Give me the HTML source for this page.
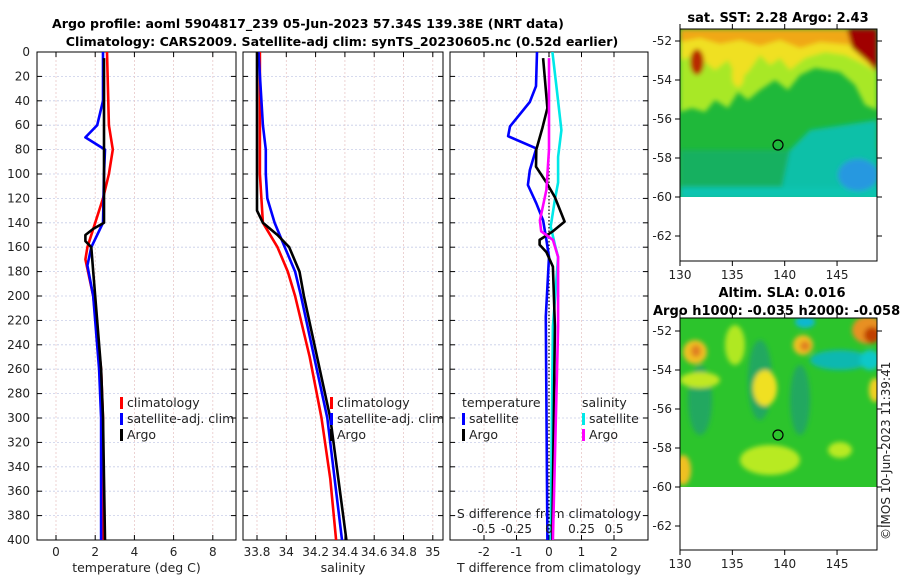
<!DOCTYPE html>
<html><head><meta charset="utf-8"><style>
html,body{margin:0;padding:0;background:#fff;}
svg{display:block;font-family:"DejaVu Sans","Liberation Sans",sans-serif;}
</style></head><body>
<svg id="fig" width="900" height="580" viewBox="0 0 900 580">
<defs>
<filter id="bl" x="-20%" y="-20%" width="140%" height="140%"><feGaussianBlur stdDeviation="2.5"/></filter>
<clipPath id="c1"><rect x="680" y="29" width="197" height="168"/></clipPath>
<clipPath id="c2"><rect x="680" y="318" width="197" height="169"/></clipPath>
<clipPath id="cp1"><rect x="37" y="52" width="199" height="488"/></clipPath>
<clipPath id="cp2"><rect x="243" y="52" width="200" height="488"/></clipPath>
<clipPath id="cp3"><rect x="450" y="52" width="198" height="488"/></clipPath>
<clipPath id="cleg"><rect x="0" y="0" width="443" height="580"/></clipPath>
</defs>
<text x="308" y="28" text-anchor="middle" font-size="12.6" font-weight="bold">Argo profile: aoml 5904817_239 05-Jun-2023 57.34S 139.38E (NRT data)</text>
<text x="342" y="46" text-anchor="middle" font-size="12.6" font-weight="bold">Climatology: CARS2009. Satellite-adj clim: synTS_20230605.nc (0.52d earlier)</text>

<!-- map 1 -->
<g>
<g clip-path="url(#c1)">
<rect x="680" y="29" width="197" height="168" fill="#1fb83a"/>
<g filter="url(#bl)">
<rect x="680" y="150" width="200" height="50" fill="#18b060"/>
<path d="M780,197 L790,150 L810,130 L877,120 V197 Z" fill="#10c0a8"/>
<rect x="680" y="187" width="200" height="12" fill="#10c4b0"/>
<ellipse cx="858" cy="175" rx="20" ry="16" fill="#2898e0"/>
<path d="M680,29 H877 V110 L865,105 L855,85 L840,72 L815,68 L800,75 L788,90 L775,80 L760,90 L748,100 L738,92 L728,108 L715,100 L705,112 L692,108 L680,112 Z" fill="#a8e828"/>
<path d="M680,29 H877 V72 L860,62 L845,55 L825,52 L805,58 L790,70 L780,58 L770,65 L760,55 L748,72 L738,80 L728,60 L715,70 L705,62 L695,55 L680,60 Z" fill="#f0e020"/>
<path d="M680,29 H877 V52 L850,45 L820,42 L800,48 L780,40 L760,46 L740,40 L720,44 L700,38 L680,42 Z" fill="#f0a818"/>
<ellipse cx="697" cy="62" rx="7" ry="13" fill="#b82a00"/>
<path d="M847,29 H877 V72 L868,62 L852,48 Z" fill="#a00000"/>
<ellipse cx="738" cy="75" rx="6" ry="12" fill="#f0e020"/>
</g>
</g>
<rect x="680" y="29" width="197" height="232" fill="none" stroke="#000" stroke-width="1"/>
<circle cx="778" cy="145" r="5" fill="none" stroke="#000" stroke-width="1.2"/>
<text x="778" y="22" text-anchor="middle" font-size="13" font-weight="bold">sat. SST: 2.28 Argo: 2.43</text>
</g>

<!-- map 2 -->
<g>
<g clip-path="url(#c2)">
<rect x="680" y="318" width="197" height="169" fill="#2cc42c"/>
<g filter="url(#bl)">
<ellipse cx="700" cy="400" rx="12" ry="35" fill="#20a860"/>
<ellipse cx="760" cy="380" rx="12" ry="40" fill="#20a860"/>
<ellipse cx="800" cy="400" rx="10" ry="35" fill="#20a860"/>
<ellipse cx="840" cy="360" rx="30" ry="10" fill="#10b8b0"/>
<ellipse cx="870" cy="360" rx="10" ry="10" fill="#10c8c8"/>
<ellipse cx="805" cy="322" rx="10" ry="6" fill="#10b8d0"/>
<ellipse cx="735" cy="345" rx="10" ry="20" fill="#b0e820"/>
<ellipse cx="695" cy="352" rx="12" ry="12" fill="#f0c020"/>
<ellipse cx="696" cy="351" rx="5" ry="6" fill="#e08020"/>
<ellipse cx="765" cy="388" rx="12" ry="18" fill="#f0e020"/>
<ellipse cx="803" cy="345" rx="10" ry="10" fill="#f0c020"/>
<ellipse cx="805" cy="346" rx="5" ry="5" fill="#e08020"/>
<ellipse cx="868" cy="330" rx="16" ry="14" fill="#e89020"/>
<ellipse cx="872" cy="335" rx="8" ry="8" fill="#c04000"/>
<ellipse cx="700" cy="380" rx="20" ry="8" fill="#c0e820"/>
<ellipse cx="683" cy="470" rx="8" ry="15" fill="#f0c020"/>
<ellipse cx="770" cy="460" rx="30" ry="15" fill="#b8ea20"/>
<ellipse cx="875" cy="390" rx="6" ry="12" fill="#f0d020"/>
<ellipse cx="840" cy="450" rx="12" ry="8" fill="#b8ea20"/>
</g>
</g>
<rect x="680" y="318" width="197" height="232" fill="none" stroke="#000" stroke-width="1"/>
<circle cx="778" cy="435" r="5" fill="none" stroke="#000" stroke-width="1.2"/>
<text x="782" y="297" text-anchor="middle" font-size="13" font-weight="bold">Altim. SLA: 0.016</text>
<text x="653" y="315" font-size="13" font-weight="bold">Argo h1000: -0.035 h2000: -0.058</text>
</g>
<text transform="translate(890,540) rotate(-90)" font-size="12" fill="#222">©IMOS 10-Jun-2023 11:39:41</text>

<g id="g"></g>
</svg>
<script>
// ---- data ----
const depthTicks=[0,20,40,60,80,100,120,140,160,180,200,220,240,260,280,300,320,340,360,380,400];
const tempTicks=[0,2,4,6,8];
const salTicks=[33.8,34,34.2,34.4,34.6,34.8,35];
const salTickLabels=['33.8','34','34.2','34.4','34.6','34.8','35'];
const tdTicks=[-2,-1,0,1,2];
const sdTicks=[-0.5,-0.25,0,0.25,0.5];
const sdTickLabels=['-0.5','-0.25','0','0.25','0.5'];

const climTD=[0,60,80,100,120,140,160,170,200,260,300,400];
const climT=[2.6,2.7,2.9,2.7,2.4,2.0,1.6,1.5,1.9,2.3,2.4,2.4];
const satTD=[0,40,60,70,80,100,140,160,175,200,260,300,400];
const satT=[2.4,2.4,2.1,1.5,2.5,2.45,2.4,1.8,1.6,1.9,2.2,2.3,2.3];
const argoTD=[5,20,80,140,145,150,155,160,180,200,260,300,400];
const argoT=[2.45,2.45,2.45,2.45,1.9,1.5,1.5,1.8,1.9,2.0,2.3,2.4,2.5];

const climSD=[0,100,120,140,160,180,200,250,300,350,400];
const climS=[33.82,33.82,33.83,33.84,33.94,34.01,34.06,34.16,34.24,34.30,34.34];
const satSD=[0,60,80,100,120,140,160,180,200,300,400];
const satS=[33.81,33.84,33.86,33.86,33.87,33.92,33.99,34.06,34.10,34.28,34.38];
const argoSD=[0,100,130,140,150,160,180,200,300,400];
const argoS=[33.8,33.8,33.8,33.84,33.94,34.02,34.09,34.12,34.30,34.41];

const dTD=[0,28,41,61,69,79,97,109,124,138,154,168,217,400];
const dTsat=[-0.37,-0.4,-0.59,-1.2,-1.26,-0.39,-0.59,-0.65,-0.39,-0.18,-0.08,0.0,-0.1,-0.05];
const dTAD=[5,46,62,80,94,107,119,139,147,154,158,164,176,225,400];
const dTargo=[-0.18,-0.05,-0.2,-0.39,-0.4,-0.08,0.18,0.48,0.12,-0.29,-0.29,-0.08,0.12,0.18,0.1];
const dSD=[0,28,64,86,107,121,143,158,168,225,400];
const dSsat=[0.026,0.057,0.095,0.07,0.07,0.045,0.013,0.045,0.07,0.03,0.013];
const dSAD=[5,80,113,138,147,154,168,225,400];
const dSargo=[0,0,-0.02,-0.07,-0.06,0.03,0.07,0.07,0.03];

const mapLatTicks=[-52,-54,-56,-58,-60,-62];
const mapLonTicks=[130,135,140,145];

// ---- axes ----
const yD=d=>52+d*1.22;
const xT=v=>56+v*19.6;
const xS=v=>257+(v-33.8)*146.5;
const xTD=v=>549+v*32.5;
const xSD=v=>549+v*130;
const lonX=v=>680+(v-130)*10.47;
const latY1=v=>41+(-52-v)*19.5;
const latY2=v=>331+(-52-v)*19.5;

const NS='http://www.w3.org/2000/svg';
const G=document.getElementById('g');
function mk(tag,attrs,parent){const e=document.createElementNS(NS,tag);for(const k in attrs)e.setAttribute(k,attrs[k]);(parent||G).appendChild(e);return e;}
function txt(x,y,s,size,anchor,parent){const t=mk('text',{x:x,y:y,'font-size':size,'text-anchor':anchor||'middle',fill:'#222'},parent);t.textContent=s;return t;}

function panel(name,x0,x1,xs,ticks,labels,xlabel){
  const g=mk('g',{});
  
  
  depthTicks.forEach(d=>{mk('line',{x1:x0,x2:x1,y1:yD(d),y2:yD(d),stroke:'#c8cde8','stroke-dasharray':'2,2','stroke-width':0.8},g);
    mk('line',{x1:x0,x2:x0+5,y1:yD(d),y2:yD(d),stroke:'#000'},g);
    mk('line',{x1:x1-5,x2:x1,y1:yD(d),y2:yD(d),stroke:'#000'},g);});
  ticks.forEach((v,i)=>{const x=xs(v);
    mk('line',{x1:x,x2:x,y1:52,y2:540,stroke:'#e8c8c8','stroke-dasharray':'2,2','stroke-width':0.8},g);
    mk('line',{x1:x,x2:x,y1:540,y2:535,stroke:'#000'},g);
    mk('line',{x1:x,x2:x,y1:52,y2:57,stroke:'#000'},g);
    if(labels)txt(x,556,labels[i],12,'middle',g);});
  mk('rect',{x:x0,y:52,width:x1-x0,height:488,fill:'none',stroke:'#000','stroke-width':1},g);
  txt((x0+x1)/2,572,xlabel,12.5,'middle',g);
  return g;
}
function line(name,xs,vals,ds,color,clip,dash){
  const pts=vals.map((v,i)=>xs(v).toFixed(1)+','+yD(ds[i]).toFixed(1)).join(' ');
  const p=mk('polyline',{points:pts,fill:'none',stroke:color,'stroke-width':dash?1.2:2.6,'stroke-linejoin':'round','clip-path':'url(#'+clip+')'});
  if(dash)p.setAttribute('stroke-dasharray','1.5,2');
  
  
}

panel('temperature-panel',37,236,xT,tempTicks,tempTicks.map(String),'temperature (deg C)');
panel('salinity-panel',243,443,xS,salTicks,salTickLabels,'salinity');
panel('difference-panel',450,648,xTD,tdTicks,tdTicks.map(String),'T difference from climatology');

depthTicks.forEach(d=>{
  const t=txt(30,yD(d)+4,String(d),12,'end');
  
  
});
const sdt=txt(549,518,'S difference from climatology',12.5,'middle');



line('temp-climatology-line',xT,climT,climTD,'#ff0000','cp1');
line('temp-satellite-line',xT,satT,satTD,'#0000ff','cp1');
line('temp-argo-line',xT,argoT,argoTD,'#000000','cp1');
line('sal-climatology-line',xS,climS,climSD,'#ff0000','cp2');
line('sal-satellite-line',xS,satS,satSD,'#0000ff','cp2');
line('sal-argo-line',xS,argoS,argoSD,'#000000','cp2');
line('zero-line',xTD,[0,0],[0,400],'#000','cp3',true);
line('sdiff-satellite-line',xSD,dSsat,dSD,'#00e8e8','cp3');
line('tdiff-satellite-line',xTD,dTsat,dTD,'#0000ff','cp3');
line('tdiff-argo-line',xTD,dTargo,dTAD,'#000000','cp3');
line('sdiff-argo-line',xSD,dSargo,dSAD,'#ff00ff','cp3');

sdTicks.forEach((v,i)=>{const t=txt(xSD(v),533,sdTickLabels[i],12,'middle');
  
  });

function legend(name,x,y,items,clip){
  const g=mk('g',{});
  
  
  if(clip)g.setAttribute('clip-path','url(#'+clip+')');
  items.forEach((it,i)=>{const yy=y+i*16;
    if(it[1])mk('rect',{x:x,y:yy-10,width:3,height:12,fill:it[1]},g);
    txt(x+(it[1]?7:0),yy,it[0],12.5,'start',g);});
}
legend('temperature-legend',120,407,[['climatology','#ff0000'],['satellite-adj. clim','#0000ff'],['Argo','#000']]);
legend('salinity-legend',330,407,[['climatology','#ff0000'],['satellite-adj. clim','#0000ff'],['Argo','#000']],'cleg');
legend('tdiff-legend',462,407,[['temperature',null],['satellite','#0000ff'],['Argo','#000']]);
legend('sdiff-legend',582,407,[['salinity',null],['satellite','#00e8e8'],['Argo','#ff00ff']]);

[[latY1,29,261],[latY2,318,550]].forEach(([ly,top,bot])=>{
  mapLatTicks.forEach(v=>{const y=ly(v);
    mk('line',{x1:680,x2:675,y1:y,y2:y,stroke:'#000'});
    mk('line',{x1:877,x2:882,y1:y,y2:y,stroke:'#000'});
    const t=txt(672,y+4,String(v),12,'end');
    
    });
  mapLonTicks.forEach(v=>{const x=lonX(v);
    mk('line',{x1:x,x2:x,y1:bot,y2:bot+5,stroke:'#000'});
    mk('line',{x1:x,x2:x,y1:top,y2:top-5,stroke:'#000'});
    const t=txt(x,bot+18,String(v),12,'middle');
    
    });
});
</script>
</body></html>
